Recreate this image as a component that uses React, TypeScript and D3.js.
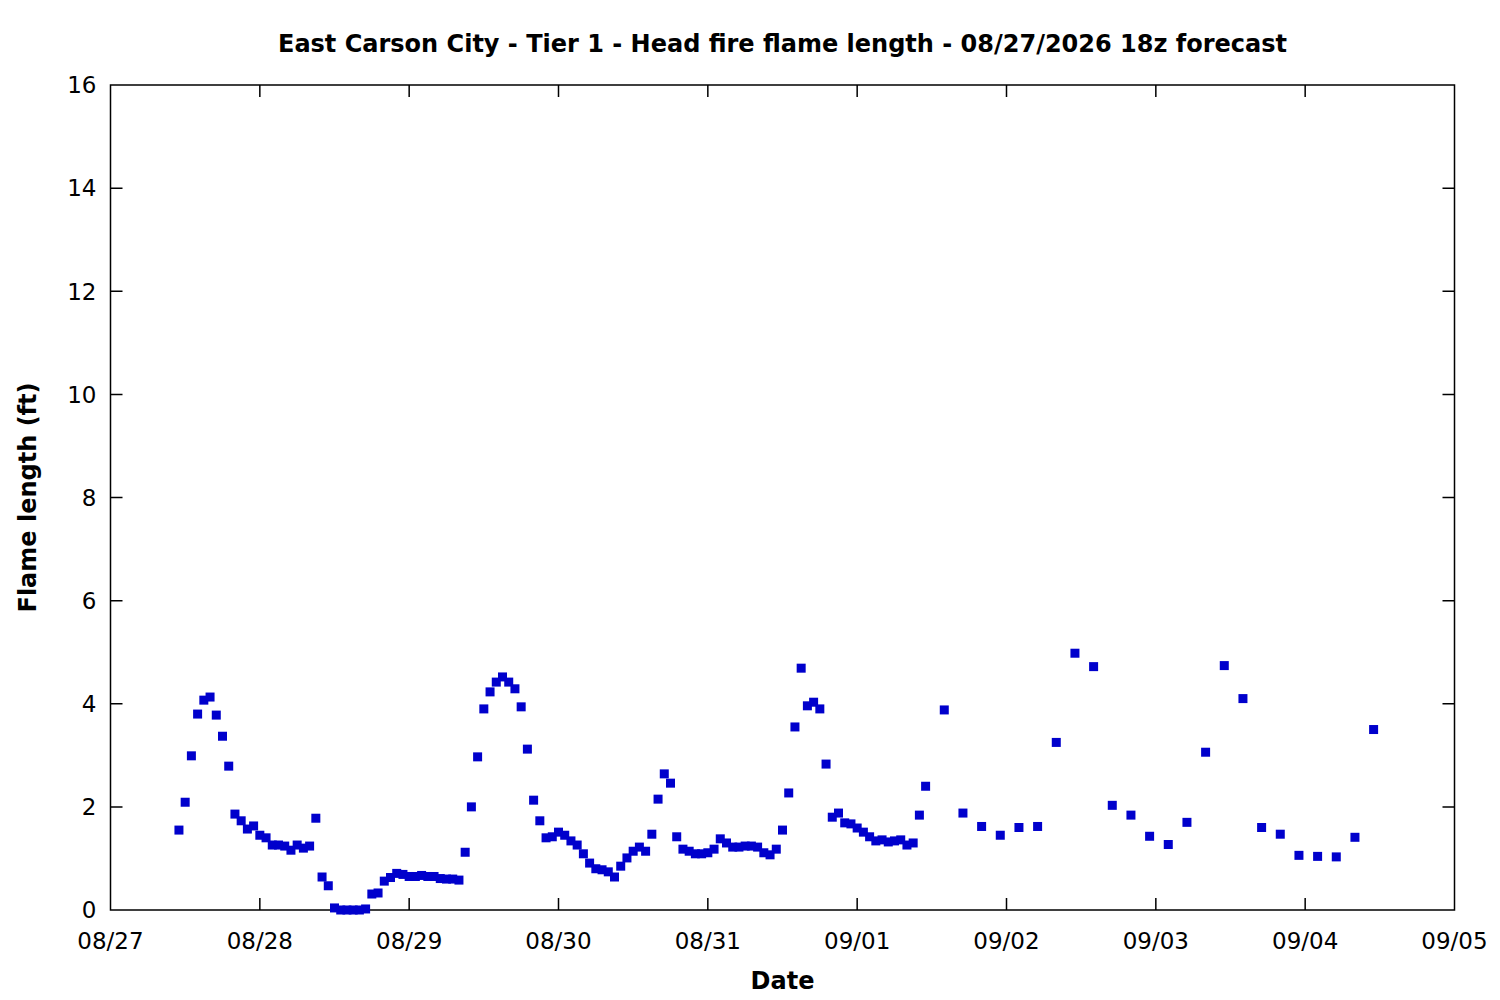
import * as d3 from "d3";
import { useEffect, useRef } from "react";

const title =
  "East Carson City - Tier 1 - Head fire flame length - 08/27/2026 18z forecast";

// hourly forecast, first value at 08/27 11:00
const hourlyStart = "2026-08-27T11:00:00Z";
const hourlyFlame = [
  1.55, 2.09, 2.99, 3.8, 4.07, 4.13, 3.78, 3.37, 2.79, 1.86,
  1.73, 1.57, 1.63, 1.45, 1.4, 1.26, 1.26, 1.24, 1.16, 1.26,
  1.2, 1.24, 1.78, 0.64, 0.47, 0.04, 0.0, 0.0, 0.0, 0.0,
  0.02, 0.31, 0.33, 0.56, 0.63, 0.71, 0.69, 0.65, 0.65, 0.67,
  0.65, 0.65, 0.61, 0.6, 0.6, 0.58, 1.12, 2.0, 2.97, 3.9,
  4.23, 4.42, 4.52, 4.42, 4.29, 3.94, 3.12, 2.13, 1.73, 1.4,
  1.42, 1.51, 1.45, 1.34, 1.26, 1.09, 0.91, 0.8, 0.78, 0.74,
  0.64, 0.85, 1.01, 1.14, 1.22, 1.14, 1.47, 2.15, 2.64, 2.46,
  1.42, 1.18, 1.14, 1.09, 1.09, 1.11, 1.18, 1.38, 1.3, 1.22,
  1.22, 1.24, 1.24, 1.22, 1.11, 1.07, 1.18, 1.55, 2.27, 3.55,
  4.69, 3.96, 4.03, 3.9, 2.83, 1.8, 1.88, 1.69, 1.67, 1.59,
  1.51, 1.42, 1.34, 1.36, 1.32, 1.34, 1.36, 1.26, 1.3, 1.84, 2.4,
];

// 3-hourly forecast, first value at 09/01 14:00
const threeHourlyStart = "2026-09-01T14:00:00Z";
const threeHourlyFlame = [
  3.88, 1.88, 1.62, 1.45, 1.6, 1.62, 3.25, 4.98, 4.72, 2.03,
  1.84, 1.43, 1.27, 1.7, 3.06, 4.74, 4.1, 1.6, 1.47, 1.06,
  1.04, 1.03, 1.41, 3.5,
];

const xDomain = ["2026-08-27T00:00:00Z", "2026-09-05T00:00:00Z"];
const yTicks = [0, 2, 4, 6, 8, 10, 12, 14, 16];

type Point = { time: Date; value: number };

function toPoints(start: string, stepHours: number, values: number[]): Point[] {
  const t0 = new Date(start);
  return values.map((value, i) => ({
    time: d3.utcHour.offset(t0, i * stepHours),
    value,
  }));
}

const App = () => {
  const chartRef = useRef<HTMLDivElement>(null);

  useEffect(() => {
    document.body.style.margin = "0";
    const width = 1500;
    const height = 1000;
    const left = 110.5;
    const right = 1454.5;
    const top = 85;
    const bottom = 910;
    const tickLen = 12;
    const markSize = 9;
    const font = "'DejaVu Sans', sans-serif";

    const points = [
      ...toPoints(hourlyStart, 1, hourlyFlame),
      ...toPoints(threeHourlyStart, 3, threeHourlyFlame),
    ];

    d3.select(chartRef.current).select("svg").remove();

    const svg = d3
      .select(chartRef.current)
      .append("svg")
      .attr("width", width)
      .attr("height", height)
      .style("display", "block")
      .style("background", "white");

    const x = d3
      .scaleUtc()
      .domain(xDomain.map((d) => new Date(d)))
      .range([left, right]);
    const y = d3.scaleLinear().domain([0, 16]).range([bottom, top]);

    const dayTicks = d3.utcDay.range(
      new Date(xDomain[0]),
      d3.utcDay.offset(new Date(xDomain[1]), 1)
    );
    const fmt = d3.utcFormat("%m/%d");

    const axes = svg.append("g").attr("stroke", "black").attr("stroke-width", 1.5);

    // y ticks, mirrored on right
    axes
      .selectAll(".yt")
      .data(yTicks.slice(1, -1))
      .join("path")
      .attr("fill", "none")
      .attr(
        "d",
        (d) =>
          `M${left},${y(d)}h${tickLen}M${right},${y(d)}h${-tickLen}`
      );

    // x ticks, mirrored on top
    axes
      .selectAll(".xt")
      .data(dayTicks.slice(1, -1))
      .join("path")
      .attr("fill", "none")
      .attr(
        "d",
        (d) =>
          `M${x(d)},${bottom}v${-tickLen}M${x(d)},${top}v${tickLen}`
      );

    axes
      .append("rect")
      .attr("x", left)
      .attr("y", top)
      .attr("width", right - left)
      .attr("height", bottom - top)
      .attr("fill", "none");

    svg
      .append("g")
      .selectAll("text")
      .data(yTicks)
      .join("text")
      .attr("x", left - 14)
      .attr("y", (d) => y(d))
      .attr("dy", "0.36em")
      .attr("text-anchor", "end")
      .style("font-family", font)
      .style("font-size", "23px")
      .text((d) => d);

    svg
      .append("g")
      .selectAll("text")
      .data(dayTicks)
      .join("text")
      .attr("x", (d) => x(d))
      .attr("y", bottom + 39)
      .attr("text-anchor", "middle")
      .style("font-family", font)
      .style("font-size", "23px")
      .text((d) => fmt(d));

    svg
      .append("g")
      .selectAll("rect")
      .data(points)
      .join("rect")
      .attr("x", (d) => x(d.time) - markSize / 2)
      .attr("y", (d) => y(d.value) - markSize / 2)
      .attr("width", markSize)
      .attr("height", markSize)
      .attr("fill", "#0000cc");

    svg
      .append("text")
      .attr("x", (left + right) / 2)
      .attr("y", 52)
      .attr("text-anchor", "middle")
      .style("font-family", font)
      .style("font-weight", "bold")
      .style("font-size", "24px")
      .text(title);

    svg
      .append("text")
      .attr("x", (left + right) / 2)
      .attr("y", 989)
      .attr("text-anchor", "middle")
      .style("font-family", font)
      .style("font-weight", "bold")
      .style("font-size", "24px")
      .text("Date");

    svg
      .append("text")
      .attr("transform", `translate(36, ${(top + bottom) / 2}) rotate(-90)`)
      .attr("text-anchor", "middle")
      .style("font-family", font)
      .style("font-weight", "bold")
      .style("font-size", "24px")
      .text("Flame length (ft)");
  }, []);

  return <div ref={chartRef}></div>;
};

export default App;
